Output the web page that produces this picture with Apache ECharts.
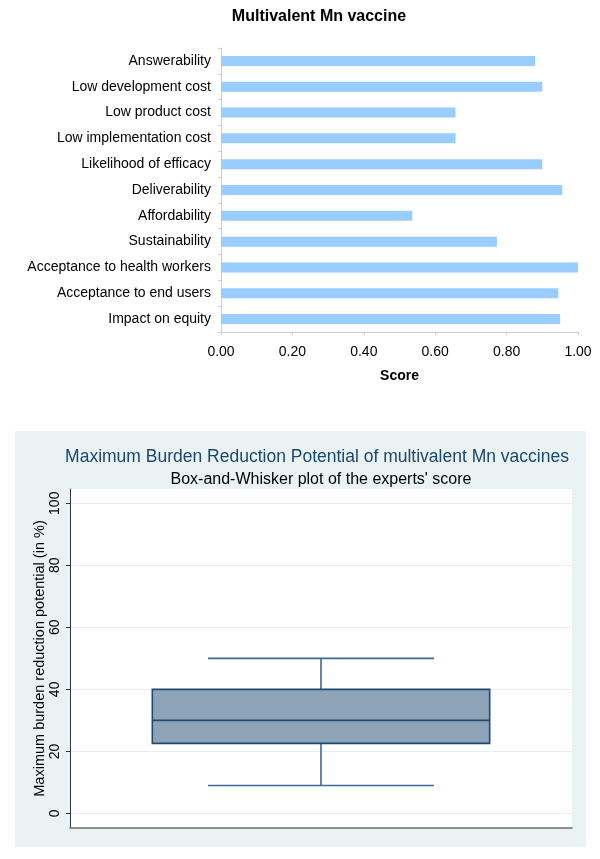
<!DOCTYPE html>
<html>
<head>
<meta charset="utf-8">
<script src="https://cdn.jsdelivr.net/npm/echarts@6/dist/echarts.min.js"></script>
<style>
html,body{margin:0;padding:0;background:#fff;}
#c{width:600px;height:859px;}
</style>
</head>
<body>
<div id="c"></div>
<script>
// ---- Top chart data ----
const categories = [
  'Answerability', 'Low development cost', 'Low product cost', 'Low implementation cost',
  'Likelihood of efficacy', 'Deliverability', 'Affordability', 'Sustainability',
  'Acceptance to health workers', 'Acceptance to end users', 'Impact on equity'
];
const scores = [0.88, 0.90, 0.657, 0.657, 0.90, 0.956, 0.536, 0.773, 1.00, 0.945, 0.95];
const scoreTicks = [0, 0.2, 0.4, 0.6, 0.8, 1.0];

// ---- Bottom chart data ----
const boxCategory = ['Multivalent Mn vaccine'];
// [lower whisker, Q1, median, Q3, upper whisker]
const boxStats = [9, 22.6, 30, 40, 50];
const burdenTicks = [0, 20, 40, 60, 80, 100];

const chart = echarts.init(document.getElementById('c'), null, {renderer: 'canvas'});

const font = 'Liberation Sans, Arial, sans-serif';

const option = {
  backgroundColor: '#ffffff',
  animation: false,
  graphic: [
    {type: 'rect', z: -10, silent: true,
     shape: {x: 15, y: 431, width: 571, height: 416},
     style: {fill: '#eaf2f3'}}
  ],
  title: [
    {text: 'Multivalent Mn vaccine', left: 314, top: 4, textAlign: 'center',
     textStyle: {fontFamily: font, fontSize: 16, fontWeight: 'bold', color: '#000'}},
    {text: 'Maximum Burden Reduction Potential of multivalent Mn vaccines', left: 312, top: 443, textAlign: 'center',
     textStyle: {fontFamily: font, fontSize: 17.5, fontWeight: 'normal', color: '#1a476f'}},
    {text: "Box-and-Whisker plot of the experts' score", left: 316, top: 467, textAlign: 'center',
     textStyle: {fontFamily: font, fontSize: 16, fontWeight: 'normal', color: '#000'}}
  ],
  grid: [
    {left: 221, right: 22, top: 48, bottom: 527, containLabel: false},
    {left: 70, right: 28, top: 489, bottom: 31, containLabel: false,
     show: true, backgroundColor: '#ffffff', borderWidth: 0}
  ],
  xAxis: [
    {type: 'value', gridIndex: 0, min: 0, max: 1, interval: 0.2,
     name: 'Score', nameLocation: 'middle', nameGap: 37,
     nameTextStyle: {fontFamily: font, fontSize: 14, fontWeight: 'bold', color: '#000'},
     axisLine: {show: true, lineStyle: {color: '#cccccc', width: 1}},
     axisTick: {show: true, length: 3, lineStyle: {color: '#cccccc'}},
     axisLabel: {fontFamily: font, fontSize: 14, color: '#000', margin: 13,
                 formatter: v => v.toFixed(2)},
     splitLine: {show: false}},
    {type: 'category', gridIndex: 1, data: boxCategory,
     axisLine: {show: true, onZero: false, lineStyle: {color: '#6e6e6e', width: 1.5}},
     axisTick: {show: false}, axisLabel: {show: false}, splitLine: {show: false}}
  ],
  yAxis: [
    {type: 'category', gridIndex: 0, data: categories, inverse: true,
     axisLine: {show: true, lineStyle: {color: '#cccccc', width: 1}},
     axisTick: {show: true, length: 3, lineStyle: {color: '#cccccc'}},
     axisLabel: {fontFamily: font, fontSize: 14, color: '#000', margin: 10}},
    {type: 'value', gridIndex: 1, min: -4.7, max: 104.6,
     name: 'Maximum burden reduction potential (in %)', nameLocation: 'middle',
     nameRotate: 90, nameGap: 23, nameMoveOverlap: false,
     nameTextStyle: {fontFamily: font, fontSize: 14.5, color: '#000'},
     axisLine: {show: true, onZero: false, lineStyle: {color: '#333333', width: 1}},
     axisTick: {show: true, length: 4, customValues: burdenTicks, lineStyle: {color: '#333333'}},
     axisLabel: {fontFamily: font, fontSize: 14, color: '#000', rotate: 90, margin: 8,
                 customValues: burdenTicks},
     splitLine: {show: true, lineStyle: {color: '#e6eef0', width: 1}}}
  ],
  series: [
    {type: 'bar', xAxisIndex: 0, yAxisIndex: 0, data: scores, barWidth: 10,
     itemStyle: {color: '#99ccff'}, silent: true},
    {type: 'custom', xAxisIndex: 1, yAxisIndex: 1,
     data: [[0].concat(boxStats)],
     encode: {x: 0, y: [1, 2, 3, 4, 5]},
     renderItem: function (params, api) {
       const xi = api.value(0);
       const lo = api.coord([xi, api.value(1)]);
       const q1 = api.coord([xi, api.value(2)]);
       const med = api.coord([xi, api.value(3)]);
       const q3 = api.coord([xi, api.value(4)]);
       const hi = api.coord([xi, api.value(5)]);
       const band = api.size([1, 0])[0];
       const bw = band * 0.672;
       const cw = band * 0.45;
       const cx = lo[0];
       const wStyle = {stroke: '#3d6891', lineWidth: 1.6};
       const bStyle = {stroke: '#1f4a73', lineWidth: 1.6};
       return {
         type: 'group',
         children: [
           {type: 'line', shape: {x1: cx, y1: hi[1], x2: cx, y2: q3[1]}, style: wStyle},
           {type: 'line', shape: {x1: cx, y1: q1[1], x2: cx, y2: lo[1]}, style: wStyle},
           {type: 'line', shape: {x1: cx - cw / 2, y1: hi[1], x2: cx + cw / 2, y2: hi[1]}, style: wStyle},
           {type: 'line', shape: {x1: cx - cw / 2, y1: lo[1], x2: cx + cw / 2, y2: lo[1]}, style: wStyle},
           {type: 'rect', shape: {x: cx - bw / 2, y: q3[1], width: bw, height: q1[1] - q3[1]},
            style: {fill: '#8fa3b8', stroke: '#1f4a73', lineWidth: 1.6}},
           {type: 'line', shape: {x1: cx - bw / 2, y1: med[1], x2: cx + bw / 2, y2: med[1]}, style: bStyle}
         ]
       };
     }}
  ]
};
chart.setOption(option);
</script>
</body>
</html>
